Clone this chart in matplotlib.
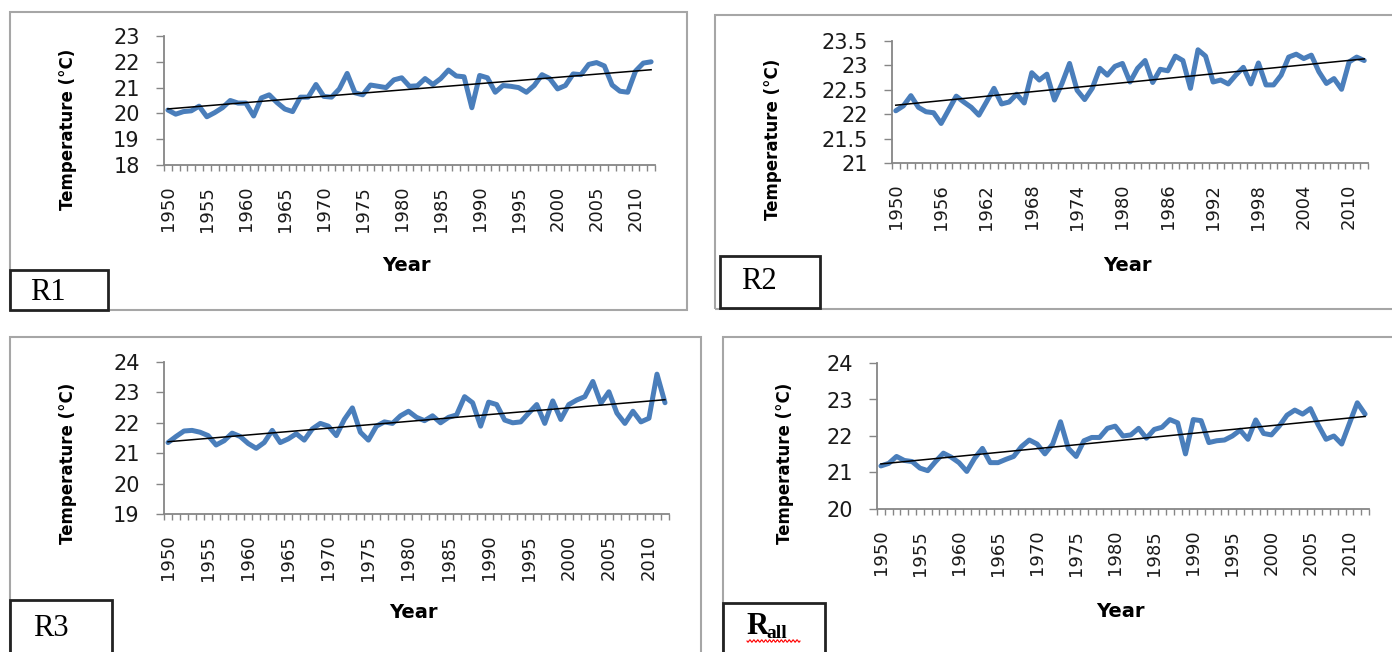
import numpy as np
import matplotlib
matplotlib.use("Agg")
import matplotlib.pyplot as plt
from matplotlib.patches import Rectangle

years = np.arange(1950, 2013)

# annual mean temperature (°C) per region
r1 = [20.13, 19.97, 20.07, 20.10, 20.28, 19.87, 20.03, 20.22, 20.50, 20.40,
      20.40, 19.90, 20.60, 20.72, 20.42, 20.17, 20.07, 20.63, 20.63, 21.12,
      20.66, 20.63, 20.95, 21.55, 20.80, 20.72, 21.10, 21.05, 21.00, 21.30,
      21.38, 21.05, 21.07, 21.35, 21.12, 21.35, 21.68, 21.45, 21.42, 20.22,
      21.47, 21.38, 20.82, 21.08, 21.05, 21.00, 20.82, 21.08, 21.50, 21.35,
      20.95, 21.08, 21.53, 21.50, 21.90, 21.97, 21.84, 21.10, 20.86, 20.82,
      21.64, 21.95, 22.00]
r2 = [22.07, 22.17, 22.38, 22.14, 22.05, 22.03, 21.81, 22.09, 22.37, 22.25,
      22.14, 21.98, 22.25, 22.53, 22.21, 22.25, 22.41, 22.23, 22.85, 22.70,
      22.82, 22.29, 22.63, 23.04, 22.49, 22.30, 22.53, 22.94, 22.80, 22.98,
      23.04, 22.66, 22.94, 23.10, 22.65, 22.92, 22.89, 23.19, 23.10, 22.53,
      23.32, 23.19, 22.66, 22.70, 22.62, 22.80, 22.96, 22.62, 23.05, 22.60,
      22.60, 22.80, 23.17, 23.23, 23.14, 23.21, 22.87, 22.63, 22.73, 22.51,
      23.07, 23.17, 23.10]
r3 = [21.35, 21.55, 21.73, 21.75, 21.69, 21.58, 21.27, 21.41, 21.66, 21.55,
      21.32, 21.16, 21.35, 21.75, 21.35, 21.47, 21.64, 21.43, 21.80, 21.98,
      21.89, 21.58, 22.11, 22.49, 21.69, 21.43, 21.89, 22.03, 21.98, 22.23,
      22.38, 22.18, 22.07, 22.23, 22.00, 22.18, 22.26, 22.86, 22.66, 21.89,
      22.68, 22.60, 22.09, 22.00, 22.03, 22.32, 22.60, 21.98, 22.72, 22.11,
      22.60, 22.75, 22.86, 23.36, 22.64, 23.02, 22.32, 21.98, 22.38, 22.03,
      22.15, 23.60, 22.66]
rall = [21.18, 21.25, 21.44, 21.33, 21.30, 21.12, 21.05, 21.30, 21.53, 21.42,
        21.27, 21.03, 21.39, 21.66, 21.27, 21.27, 21.36, 21.44, 21.71, 21.89,
        21.78, 21.51, 21.78, 22.39, 21.66, 21.44, 21.87, 21.96, 21.96, 22.21,
        22.27, 22.00, 22.03, 22.21, 21.94, 22.18, 22.24, 22.45, 22.36, 21.51,
        22.45, 22.42, 21.82, 21.87, 21.89, 22.00, 22.16, 21.91, 22.44, 22.07,
        22.03, 22.27, 22.57, 22.71, 22.60, 22.75, 22.30, 21.91, 22.00, 21.78,
        22.35, 22.91, 22.60]

W, H = 1392, 652
BLUE = "#4a7ebb"
GREY = "#868686"

fig = plt.figure(figsize=(W / 100, H / 100), dpi=100)
fig.patch.set_facecolor("white")


def fig_rect(x0, y0, x1, y1):
    # pixel box (top-left origin) -> figure fraction [left, bottom, width, height]
    return [x0 / W, 1 - y1 / H, (x1 - x0) / W, (y1 - y0) / H]


def frame(x0, y0, x1, y1, color, lw, fill="none", z=-1):
    l, b, w, h = fig_rect(x0, y0, x1, y1)
    fig.patches.append(Rectangle((l, b), w, h, transform=fig.transFigure,
                                 facecolor=fill, edgecolor=color, lw=lw,
                                 zorder=z))


def panel(rect, values, ylim, ystep, every, ylab_xy, xlab_xy):
    ax = fig.add_axes(fig_rect(*rect))
    ax.set_facecolor("none")
    idx = np.arange(len(years))
    ax.plot(idx, values, color=BLUE, lw=3.6, solid_joinstyle="round",
            solid_capstyle="round", clip_on=False)
    fit = np.polyfit(idx, values, 1)
    ax.plot(idx, np.polyval(fit, idx), color="black", lw=1.1, clip_on=False)

    ax.set_xlim(-0.5, len(years) - 0.5)
    ax.set_ylim(*ylim)
    yt = np.arange(ylim[0], ylim[1] + ystep / 2, ystep)
    ax.set_yticks(yt)
    ax.set_yticklabels(["{:g}".format(v) for v in yt])

    lab_pos = [i for i, y in enumerate(years) if (y - 1950) % every == 0]
    ax.set_xticks(lab_pos)
    ax.set_xticklabels([str(years[i]) for i in lab_pos], rotation=90)
    ax.set_xticks(np.arange(-0.5, len(years), 1), minor=True)

    for s in ["top", "right"]:
        ax.spines[s].set_visible(False)
    for s in ["left", "bottom"]:
        ax.spines[s].set_color(GREY)
        ax.spines[s].set_linewidth(1.3)
    ax.tick_params(axis="x", which="major", length=0, pad=15, labelsize=13,
                   labelcolor="#1a1a1a")
    ax.tick_params(axis="x", which="minor", length=4.5, width=1, color=GREY)
    ax.tick_params(axis="y", length=5.5, width=1, color=GREY, pad=12,
                   labelsize=15, labelcolor="#1a1a1a")

    ax.set_ylabel("Temperature (°C)", fontsize=12, fontweight="bold",
                  va="center", ha="center")
    ax.yaxis.set_label_coords(*ylab_xy)
    ax.set_xlabel("Year", fontsize=14, fontweight="bold", va="center")
    ax.xaxis.set_label_coords(*xlab_xy)
    return ax


# outer panel frames
frame(10, 12, 687, 310, "#a6a6a6", 1.5)
frame(715, 15, 1400, 309, "#a6a6a6", 1.5)
frame(10, 337, 701, 660, "#a6a6a6", 1.5)
frame(723, 337, 1400, 660, "#a6a6a6", 1.5)

panel((164, 36, 655, 165), r1, (18, 23), 1, 5, (-0.196, 0.28), (0.494, -0.78))
panel((892, 41, 1368, 163), r2, (21, 23.5), 0.5, 6, (-0.25, 0.19), (0.494, -0.84))
panel((164, 362, 669, 514), r3, (19, 24), 1, 5, (-0.19, 0.335), (0.493, -0.645))
panel((877, 363, 1369, 509), rall, (20, 24), 1, 5, (-0.187, 0.31), (0.494, -0.705))

# region tags
serif = "Liberation Serif"
frame(10, 270, 108, 310, "#222222", 2, fill="white", z=2)
frame(720, 256, 820, 308, "#222222", 2, fill="white", z=2)
frame(10, 600, 112, 660, "#222222", 2, fill="white", z=2)
frame(723, 603, 825, 660, "#222222", 2, fill="white", z=2)

fig.text(30 / W, 1 - 292 / H, "R1", family=serif, fontsize=22, va="center")
fig.text(741 / W, 1 - 281 / H, "R2", family=serif, fontsize=22, va="center")
fig.text(33 / W, 1 - 628 / H, "R3", family=serif, fontsize=22, va="center")
fig.text(746 / W, 1 - 627 / H, "R", family=serif, fontsize=22,
         fontweight="bold", va="center")
fig.text(766 / W, 1 - 634 / H, "all", family=serif, fontsize=14,
         fontweight="bold", va="center")

# spell-check squiggle under the tag
wx = np.linspace(747, 800, 90)
wy = 641 + 1.2 * np.sin((wx - 747) * 1.6)
fig.add_artist(plt.Line2D(wx / W, 1 - wy / H, transform=fig.transFigure,
                          color="red", lw=0.8, zorder=4))

plt.savefig("out.png", dpi=100)
plt.close(fig)
